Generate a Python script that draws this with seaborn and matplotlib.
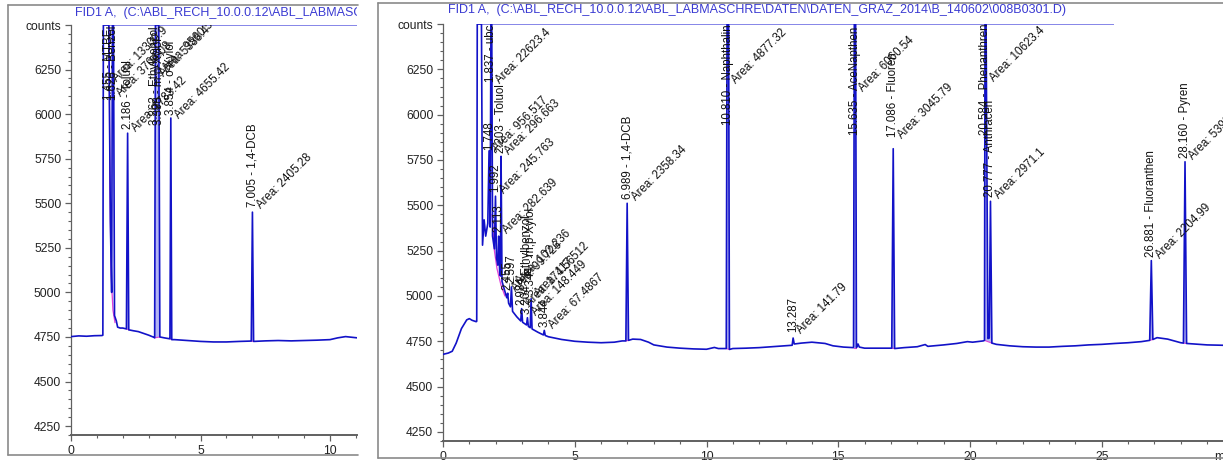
import numpy as np
import seaborn as sns
import matplotlib.pyplot as plt
from matplotlib.lines import Line2D
from matplotlib.transforms import Bbox, TransformedBbox
from matplotlib.ticker import MultipleLocator

#%% Data (off-scale parts sit at the 6500 top line)
title_left = r"FID1 A,  (C:\ABL_RECH_10.0.0.12\ABL_LABMASCHRE\DATEN\DATEN_GRAZ_2014\B_140602\008B0201.D)"
title_right = r"FID1 A,  (C:\ABL_RECH_10.0.0.12\ABL_LABMASCHRE\DATEN\DATEN_GRAZ_2014\B_140602\008B0301.D)"

ytick_vals = [4250, 4500, 4750, 5000, 5250, 5500, 5750, 6000, 6250, 6500]
ytick_labels = ["4250", "4500", "4750", "5000", "5250", "5500", "5750", "6000", "6250", "counts"]

left_t = [0, 0.3, 0.6, 0.9, 1.2, 1.23, 1.25, 1.46, 1.52, 1.57, 1.60, 1.64, 1.68, 1.75, 1.8,
          1.9, 2.0, 2.14, 2.186, 2.23, 2.4, 2.6, 2.8, 3.0, 3.2, 3.23, 3.26, 3.39, 3.43, 3.6,
          3.8, 3.82, 3.854, 3.89, 4.0, 4.5, 5.0, 5.5, 6.0, 6.5, 6.96, 7.005, 7.05, 7.5, 8.0,
          8.5, 9.0, 9.5, 10.0, 10.3, 10.6, 11.05]
left_c = [4752, 4756, 4754, 4757, 4758, 4760, 6500, 6500, 5400, 5000, 6500, 6500, 4870, 4840, 4805,
          4800, 4800, 4795, 5893, 4790, 4785, 4780, 4770, 4760, 4748, 4745, 6500, 6500, 4750, 4745,
          4740, 4740, 5978, 4735, 4735, 4730, 4725, 4722, 4722, 4725, 4727, 5450, 4725, 4728, 4730,
          4728, 4730, 4732, 4735, 4745, 4752, 4745]

right_t = [0, 0.2, 0.35, 0.5, 0.7, 0.9, 1.0, 1.1, 1.26, 1.28, 1.30, 1.46, 1.50, 1.56, 1.62,
           1.70, 1.748, 1.79, 1.82, 1.85, 1.88, 1.95, 1.992, 2.03, 2.08, 2.113, 2.15, 2.18, 2.203,
           2.24, 2.32, 2.42, 2.455, 2.49, 2.56, 2.597, 2.64, 2.8, 2.95, 2.984, 3.02, 3.17, 3.204,
           3.24, 3.31, 3.344, 3.38, 3.6, 3.81, 3.844, 3.88, 4.0, 4.5, 5.0, 5.5, 6.0, 6.5, 6.8,
           6.94, 6.989, 7.04, 7.2, 7.5, 7.8, 8.0, 8.5, 9.0, 9.5, 10.0, 10.3, 10.45, 10.75, 10.78,
           10.84, 10.87, 11.0, 11.5, 12.0, 12.5, 13.0, 13.25, 13.287, 13.33, 13.6, 14.0, 14.5,
           14.8, 15.2, 15.58, 15.61, 15.66, 15.69, 15.75, 15.8, 16.0, 16.5, 17.03, 17.086, 17.14,
           17.5, 18.0, 18.3, 18.4, 19.0, 19.5, 19.9, 20.1, 20.5, 20.55, 20.57, 20.61, 20.68, 20.73,
           20.777, 20.83, 21.0, 21.5, 22.0, 22.5, 23.0, 23.5, 24.0, 24.5, 25.0, 25.5, 26.0, 26.5,
           26.82, 26.881, 26.94, 27.1, 27.5, 28.0, 28.1, 28.16, 28.22, 28.5, 29.0, 29.6]
right_c = [4678, 4685, 4695, 4740, 4820, 4868, 4875, 4866, 4858, 4860, 6500, 6500, 5280, 5420, 5330,
           5400, 5800, 5380, 6500, 6500, 5330, 5260, 5550, 5210, 5170, 5330, 5130, 5110, 5770,
           5080, 5040, 4990, 5015, 4960, 4940, 5050, 4915, 4885, 4862, 4930, 4855, 4840, 4880,
           4832, 4825, 4985, 4818, 4800, 4785, 4810, 4782, 4775, 4760, 4750, 4745, 4742, 4745, 4752,
           4752, 5511, 4755, 4762, 4760, 4745, 4730, 4718, 4712, 4708, 4706, 4716, 4710, 4710, 6500,
           6500, 4705, 4710, 4712, 4715, 4720, 4725, 4728, 4768, 4735, 4740, 4745, 4738,
           4725, 4718, 4715, 6500, 6500, 4715, 4735, 4718, 4712, 4712, 4712, 5812, 4710,
           4715, 4720, 4732, 4722, 4730, 4738, 4748, 4745, 4752, 4755, 6500, 6500, 4765, 4768,
           5522, 4740, 4733, 4725, 4720, 4718, 4718, 4722, 4725, 4730, 4733, 4738, 4742, 4748,
           4755, 5195, 4760, 4770, 4762, 4742, 4740, 5740, 4738, 4735, 4730, 4728]

# peak windows that get the light integration fill
left_windows = [(2.14, 2.23), (3.23, 3.43), (3.82, 3.89), (6.96, 7.05)]
right_windows = [(6.94, 7.04), (10.75, 10.87), (15.58, 15.69), (17.03, 17.14),
                 (20.55, 20.83), (26.82, 26.94), (28.1, 28.22)]

# tangent skim baselines on the solvent tail
left_skim_t = [1.47, 1.50, 1.55, 1.62, 1.70]
left_skim_c = [6500, 5600, 5100, 4900, 4830]
right_skim_t = [1.86, 1.95, 2.05, 2.2, 2.35]
right_skim_c = [5450, 5250, 5150, 5060, 5000]

left_topline = (1.24, 11.05)
right_topline = (1.29, 25.45)

left_peak_rt = [1.455, 1.626, 2.186, 3.262, 3.398, 3.854, 7.005]
left_peak_name = ["MTBE", "Benzol", "Toluol", "Ethylbenzol", "m,p-Xylol", "o-Xylol", "1,4-DCB"]
left_peak_area = ["13300.9", "3704.08", "1783.42", "5388.4", "9560.55", "4655.42", "2405.28"]

right_peak_rt = [1.748, 1.837, 1.992, 2.113, 2.203, 2.455, 2.597, 2.984, 3.204, 3.344, 3.844,
                 6.989, 10.810, 13.287, 15.635, 17.086, 20.584, 20.777, 26.881, 28.160]
right_peak_name = ["", "ubc", "", "", "Toluol", "", "", "", "Ethylbenzol", "m,p-Xylol", "",
                   "1,4-DCB", "Naphthalin", "", "AceNapthen", "Fluoren", "Phenanthren",
                   "Anthracen", "Fluoranthen", "Pyren"]
right_peak_area = ["956.517", "22623.4", "245.763", "282.639", "296.663", "99.726", "102.236",
                   "174.56", "148.449", "117.512", "67.4867", "2358.34", "4877.32", "141.79",
                   "6060.54", "3045.79", "10623.4", "2971.1", "2204.99", "5392.17"]

# where the annotations start (counts)
left_label_y = [6078, 6078, 5915, 5938, 5938, 5994, 5478]
left_area_y = [6190, 6106, 5910, 6218, 6246, 5983, 5478]
right_label_y = [5806, 6181, 5574, 5353, 5789, 5035, 5070, 4950, 4900, 5005, 4830,
                 5535, 5944, 4801, 5889, 5878, 5889, 5547, 5215, 5760]
right_area_y = [5806, 6181, 5574, 5353, 5789, 5035, 5070, 4950, 4900, 5005, 4830,
                5535, 6181, 4801, 6137, 5878, 6190, 5547, 5215, 5760]

#%% Style
sns.set_theme(style="ticks")
plt.rcParams['font.family'] = ['Liberation Sans', 'DejaVu Sans']

trace_col = "#1212c8"
fill_col = "#b4b4f2"
pink = "#e040d8"
top_col = "#7c7ce6"
axis_col = "#606060"
frame_col = "#8a8a8a"
title_col = "#3a3ad2"
fs = 8.3

W, H = 1223, 463
fig = plt.figure(figsize=(W / 100, H / 100), dpi=100)


def fx(px):
    return px / W


def fy(py):
    return 1 - py / H


ax_l = fig.add_axes([fx(71), fy(435), fx(357 - 71), (435 - 25) / H])
ax_r = fig.add_axes([fx(443), fy(441), fx(1223 - 443), (441 - 24) / H])


def draw_panel(ax, t, c, windows, skim_t, skim_c, topline, rts, names, areas, label_y, area_y,
               xmax, xticks):
    t = np.asarray(t)
    c = np.asarray(c)
    for ts, te in windows:
        m = (t >= ts) & (t <= te)
        ax.fill(t[m], c[m], color=fill_col, lw=0, zorder=1)
        ax.plot([t[m][0], t[m][-1]], [c[m][0], c[m][-1]], color=pink, lw=0.8, zorder=2)
    ax.plot(skim_t, skim_c, color=pink, lw=0.9, zorder=2)
    ax.hlines(6500, topline[0], topline[1], color=top_col, lw=1.3, zorder=2)
    sns.lineplot(x=t, y=c, ax=ax, color=trace_col, linewidth=1.2, estimator=None,
                 sort=False, zorder=3)

    for rt, nm, ar, ly, ay in zip(rts, names, areas, label_y, area_y):
        lab = f"{rt:.3f} - {nm}" if nm else f"{rt:.3f}"
        ax.annotate(lab, xy=(rt, ly), xytext=(0, 0), textcoords="offset points",
                    rotation=90, rotation_mode="anchor", ha="left", va="center",
                    fontsize=fs, color="#111111", clip_on=True, zorder=4)
        ax.annotate(f"Area: {ar}", xy=(rt, ay), xytext=(4.5, 0), textcoords="offset points",
                    rotation=45, rotation_mode="anchor", ha="left", va="center",
                    fontsize=fs, color="#111111", clip_on=True, zorder=4)

    ax.set_xlim(0, xmax)
    ax.set_ylim(4200, 6500)
    ax.set_yticks(ytick_vals)
    ax.set_yticklabels(ytick_labels)
    ax.set_xticks(xticks)
    ax.set_xticklabels([str(v) for v in xticks])
    ax.xaxis.set_minor_locator(MultipleLocator(1))
    ax.yaxis.set_minor_locator(MultipleLocator(50))
    ax.tick_params(which="major", length=4.5, width=0.9, color=axis_col,
                   labelsize=fs + 0.4, labelcolor="#222222", pad=2.5)
    ax.tick_params(which="minor", length=2.5, width=0.8, color=axis_col)
    ax.spines[['top', 'right']].set_visible(False)
    ax.spines['left'].set_color(axis_col)
    ax.spines['left'].set_linewidth(0.9)
    ax.spines['bottom'].set_color(axis_col)
    ax.spines['bottom'].set_linewidth(1.4)
    ax.set_facecolor("none")
    ax.set_xlabel("")
    ax.set_ylabel("")


draw_panel(ax_l, left_t, left_c, left_windows, left_skim_t, left_skim_c, left_topline,
           left_peak_rt, left_peak_name, left_peak_area, left_label_y, left_area_y,
           286 / 25.9, [0, 5, 10])
draw_panel(ax_r, right_t, right_c, right_windows, right_skim_t, right_skim_c, right_topline,
           right_peak_rt, right_peak_name, right_peak_area, right_label_y, right_area_y,
           780 / 26.35, [0, 5, 10, 15, 20, 25])

ax_r.annotate("min", xy=(29.25, 4200), xytext=(0, -7.5), textcoords="offset points",
              ha="left", va="top", fontsize=fs + 0.4, color="#222222", annotation_clip=False)

# window frames around the two screenshots
frame_segments = [
    ((8, 5), (358, 5)), ((8, 5), (8, 455)), ((8, 455), (358, 455)),
    ((378, 3), (1230, 3)), ((378, 3), (378, 458)), ((378, 458), (1230, 458)),
]
for (x0, y0), (x1, y1) in frame_segments:
    fig.add_artist(Line2D([fx(x0), fx(x1)], [fy(y0), fy(y1)], transform=fig.transFigure,
                          color=frame_col, lw=1.2))

t_l = fig.text(fx(75), fy(13), title_left, fontsize=fs + 0.7, color=title_col,
               ha="left", va="center")
t_l.set_clip_on(True)
t_l.set_clip_box(TransformedBbox(Bbox([[0, 0], [fx(357), 1]]), fig.transFigure))
fig.text(fx(448), fy(10), title_right, fontsize=fs + 0.7, color=title_col,
         ha="left", va="center")

fig.savefig("out.png", dpi=100)
